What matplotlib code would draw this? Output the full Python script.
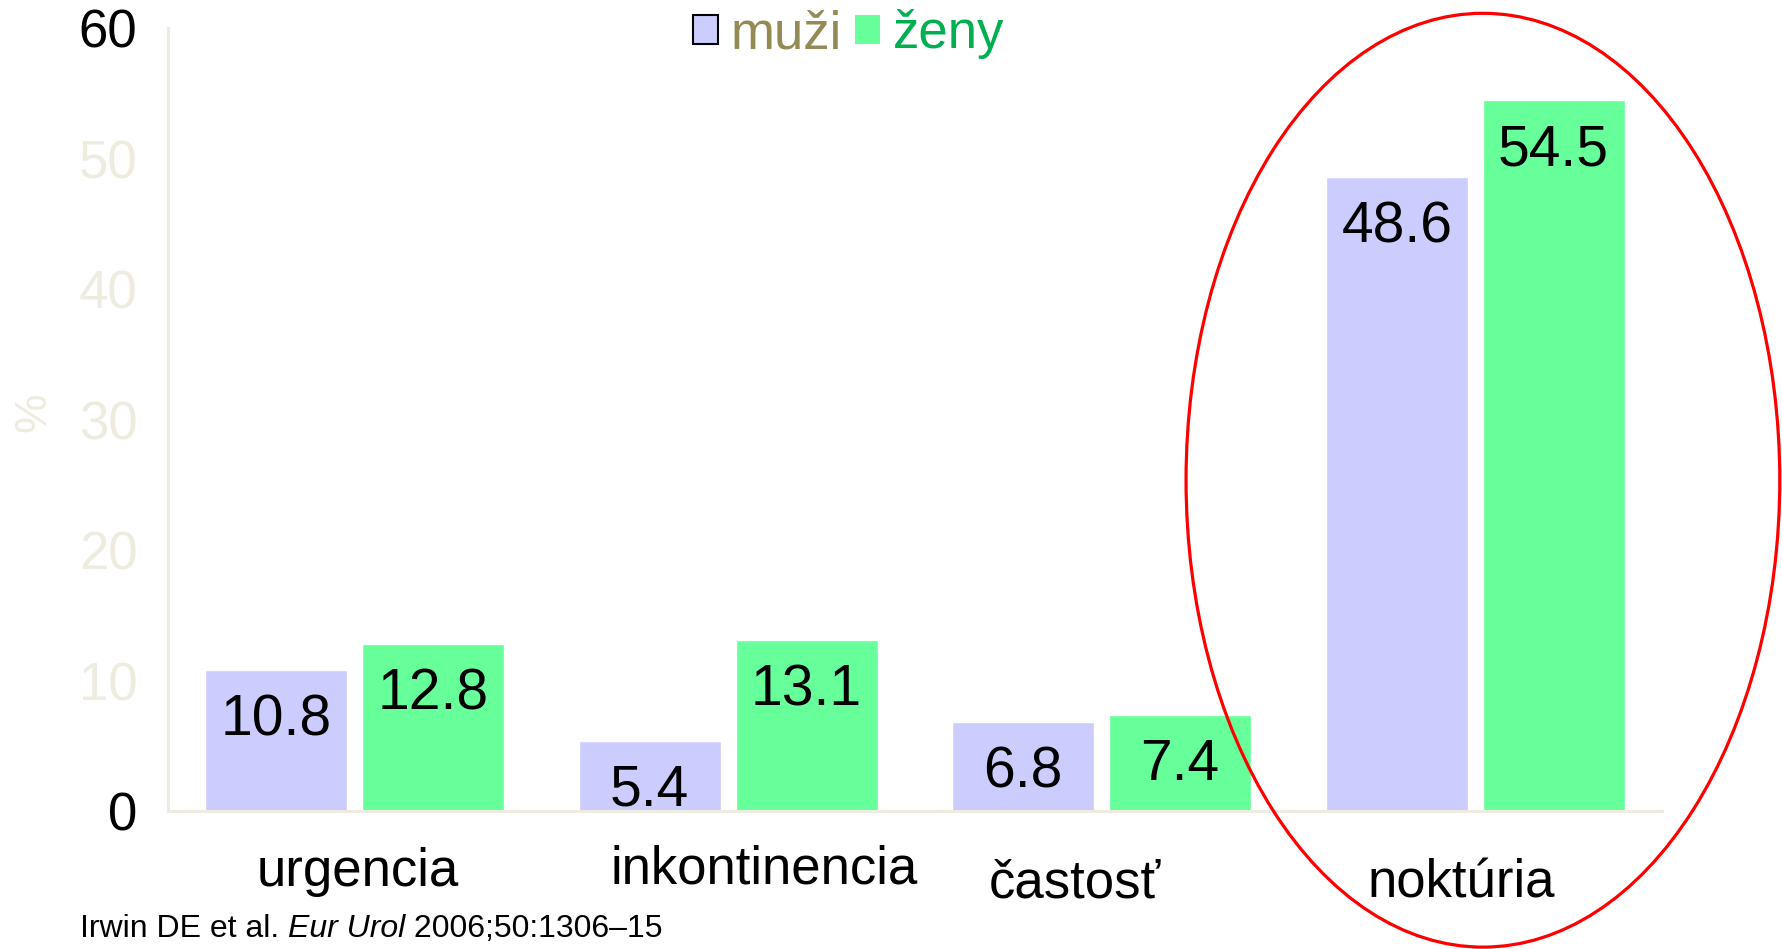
import matplotlib.pyplot as plt
from matplotlib.patches import Patch, Ellipse
from matplotlib.transforms import ScaledTranslation
import numpy as np

plt.rcParams['font.family'] = ['Liberation Sans', 'DejaVu Sans']

categories = ['urgencia', 'inkontinencia', 'častosť', 'noktúria']
muzi = [10.8, 5.4, 6.8, 48.6]
zeny = [12.8, 13.1, 7.4, 54.5]
yticks = [0, 10, 20, 30, 40, 50, 60]

c_muzi = '#CCCCFF'
c_zeny = '#66FF99'
axis_col = '#EEECE1'

fig = plt.figure(figsize=(17.83, 9.49), dpi=100)
ax = fig.add_axes([0.0942, 0.1454, 0.8379, 0.8246])

x = np.arange(len(categories))
w = 0.38
off = 0.21
b1 = ax.bar(x - off, muzi, w, color=c_muzi, edgecolor='white', linewidth=1)
b2 = ax.bar(x + off, zeny, w, color=c_zeny, edgecolor='white', linewidth=1)

for bars, vals in ((b1, muzi), (b2, zeny)):
    for r, v in zip(bars, vals):
        ax.annotate(f'{v:.1f}', (r.get_x() + r.get_width() / 2, v),
                    xytext=(0, -36), textcoords='offset points',
                    ha='center', va='center', fontsize=41, color='black')

ax.set_xlim(-0.5, 3.5)
ax.set_ylim(0, 60)
ax.set_yticks(yticks)
ax.set_yticklabels([str(t) for t in yticks], fontsize=38)
for lab, t in zip(ax.get_yticklabels(), yticks):
    lab.set_color('black' if t in (0, 60) else axis_col)
ax.set_xticks(x)
ax.set_xticklabels(categories, fontsize=38)
ax.tick_params(axis='y', length=0, pad=22)
ax.tick_params(axis='x', length=0, pad=20)

# nudge category labels like in the slide
nudges = [(2, -6), (26, -4), (-19, -14), (-10, -14)]
for lab, (dx, dy) in zip(ax.get_xticklabels(), nudges):
    lab.set_transform(lab.get_transform() + ScaledTranslation(dx / 72, dy / 72, fig.dpi_scale_trans))

for s in ('top', 'right'):
    ax.spines[s].set_visible(False)
for s in ('left', 'bottom'):
    ax.spines[s].set_color(axis_col)
    ax.spines[s].set_linewidth(2.2)

ax.set_ylabel('%', fontsize=32, color=axis_col)
ax.yaxis.set_label_coords(-0.076, 0.51)

handles = [Patch(facecolor=c_muzi, edgecolor='black', linewidth=1.5),
           Patch(facecolor=c_zeny, edgecolor='none')]
leg = fig.legend(handles, ['muži', 'ženy'], loc='center', bbox_to_anchor=(0.476, 0.964),
                 ncol=2, frameon=False, fontsize=38, handlelength=0.46, handleheight=0.46,
                 handletextpad=0.25, columnspacing=0.25, borderpad=0)
leg.get_texts()[0].set_color('#948A54')
leg.get_texts()[1].set_color('#00B050')

# citation
t1 = fig.text(0.0449, 0.021, 'Irwin DE et al. ', fontsize=23, va='center', ha='left')
t2 = fig.text(0, 0, 'Eur Urol', fontsize=23, style='italic', va='center', ha='left')
t3 = fig.text(0, 0, ' 2006;50:1306–15', fontsize=23, va='center', ha='left')
fig.canvas.draw()
r = fig.canvas.get_renderer()
bb = t1.get_window_extent(r).transformed(fig.transFigure.inverted())
t2.set_position((bb.x1, 0.021))
bb = t2.get_window_extent(r).transformed(fig.transFigure.inverted())
t3.set_position((bb.x1, 0.021))

ell = Ellipse((0.8317, 0.494), 0.333, 0.984, transform=fig.transFigure,
              facecolor='none', edgecolor='red', linewidth=2.3, clip_on=False)
fig.add_artist(ell)

fig.savefig('out.png', dpi=100)
